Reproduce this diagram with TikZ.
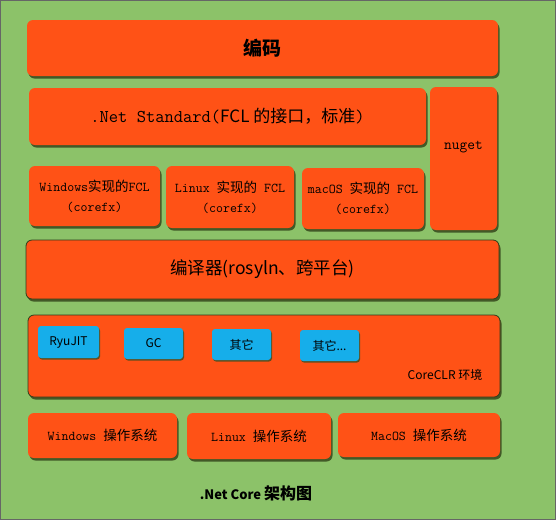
\documentclass[tikz,border=0pt]{standalone}
\usepackage{fontspec}
\usepackage{tikz}
\usetikzlibrary{shadows}
\newfontfamily\cjk{Noto Sans CJK SC}
\definecolor{bggreen}{RGB}{140,194,105}
\definecolor{boxred}{RGB}{255,82,22}
\definecolor{boxblue}{RGB}{22,174,234}
\definecolor{shadowgreen}{RGB}{58,78,32}

\begin{document}
\begin{tikzpicture}[x=1pt,y=-1pt,
    box/.style={fill=boxred,rounded corners=6pt,inner sep=0pt,align=center,
      drop shadow={shadow xshift=1.5pt,shadow yshift=-2.5pt,fill=shadowgreen,opacity=.9}},
    framed/.style={box,draw=shadowgreen!80!black,line width=.8pt},
    part/.style={fill=boxblue,rounded corners=3pt,inner sep=0pt,font=\cjk\fontsize{12}{14}\selectfont,
      drop shadow={shadow xshift=1pt,shadow yshift=-1.5pt,fill=shadowgreen,opacity=.8}},
    mono/.style={font=\ttfamily\fontsize{13.5}{20}\selectfont}]
    \fill[bggreen] (0,0) rectangle (556,520);
    \draw[black!60,line width=.8pt] (0.4,0.4) rectangle (555.6,519.4);
    % top rows
    \node[box,minimum width=471pt,minimum height=56pt] (code) at (262.5,48)
      {\cjk\bfseries\fontsize{19}{22}\selectfont 编码};
    \node[box,minimum width=397pt,minimum height=57pt,font=\ttfamily\fontsize{18}{20}\selectfont] (std) at (227.5,116.5)
      {.Net Standard({\cjk\fontsize{17}{20}\selectfont FCL 的接口，标准})};
    \node[box,minimum width=67pt,minimum height=143pt] (nuget) at (463.5,158.5) {};
    \node[font=\ttfamily\fontsize{15}{18}\selectfont] (nugettext) at (463.5,147) {nuget};
    \node[box,mono,minimum width=131pt,minimum height=60pt] (winfcl) at (94.5,196)
      {Windows{\cjk 实现的}FCL\\(corefx)};
    \node[box,mono,minimum width=128pt,minimum height=62pt] (linfcl) at (230,197)
      {Linux {\cjk 实现的} FCL\\(corefx)};
    \node[box,mono,minimum width=122pt,minimum height=61pt] (macfcl) at (363,198.5)
      {macOS {\cjk 实现的} FCL\\(corefx)};
    % compiler and runtime
    \node[framed,minimum width=473pt,minimum height=59pt,font=\cjk\fontsize{17.5}{20}\selectfont] (compiler) at (262.5,269.5)
      {编译器(rosyln、跨平台)};
    \node[framed,minimum width=472pt,minimum height=82pt] (clr) at (264,356) {};
    \node[part,minimum width=61pt,minimum height=32pt] (ryujit) at (68.5,342) {RyuJIT};
    \node[part,minimum width=59pt,minimum height=31pt] (gc) at (153.5,343.5) {GC};
    \node[part,minimum width=59pt,minimum height=31pt] (other) at (241.5,344.5) {其它};
    \node[part,minimum width=59pt,minimum height=31pt] (others) at (329.5,345.5) {其它...};
    \node[font=\cjk\fontsize{12}{14}\selectfont] (clrtext) at (445,375) {CoreCLR 环境};
    % operating systems
    \node[box,mono,minimum width=149pt,minimum height=45pt] (winos) at (102.5,435.5)
      {Windows {\cjk 操作系统}};
    \node[box,mono,minimum width=144pt,minimum height=46pt] (linos) at (259,436)
      {Linux {\cjk 操作系统}};
    \node[box,mono,minimum width=162pt,minimum height=44pt] (macos) at (419,435)
      {MacOS {\cjk 操作系统}};
    \node[font=\cjk\bfseries\fontsize{13}{16}\selectfont] (title) at (256,493)
      {.Net Core {\fontsize{16}{18}\selectfont 架构图}};
\end{tikzpicture}
\end{document}
